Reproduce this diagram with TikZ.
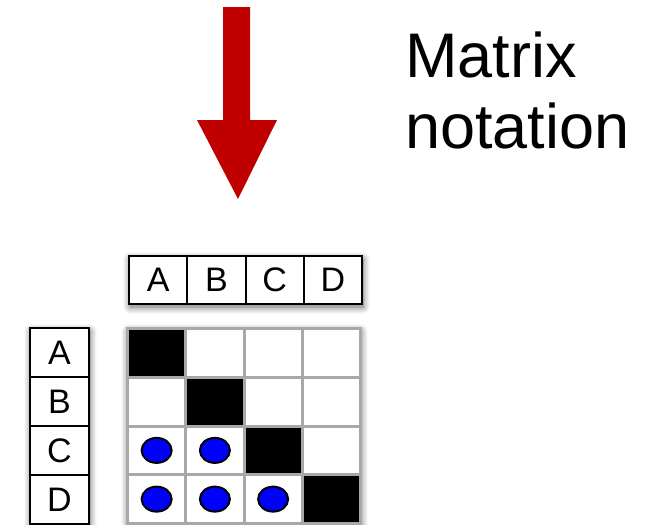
\documentclass[tikz,border=0pt]{standalone}
\usepackage{fontspec}
\setmainfont{Liberation Sans}
\usetikzlibrary{shadows.blur,shapes.geometric}
\definecolor{arrowred}{HTML}{C00000}
\definecolor{gridgray}{HTML}{A8A8A8}
\definecolor{dotblue}{HTML}{0000FF}
\begin{document}
\begin{tikzpicture}[x=1pt,y=-1pt,
  labelcell/.style={draw=black,line width=2pt,fill=white,inner sep=0pt,anchor=north west,
    font=\fontsize{34}{36}\selectfont},
  hcell/.style={labelcell,minimum width=58.25pt,minimum height=48pt},
  rcell/.style={labelcell,minimum width=59pt,minimum height=49pt},
  gcell/.style={draw=gridgray,line width=3pt,fill=white,inner sep=0pt,anchor=north west,
    minimum width=58.25pt,minimum height=48.75pt},
  diagcell/.style={gcell,fill=black},
  dot/.style={ellipse,draw=black,line width=2pt,fill=dotblue,inner sep=0pt,
    minimum width=30pt,minimum height=25pt},
  shadowbox/.style={fill=white,blur shadow={shadow xshift=2pt,shadow yshift=-4pt,
    shadow blur radius=7pt,shadow blur steps=10,shadow opacity=60}},
  titletext/.style={anchor=base west,inner sep=0pt,font=\fontsize{63}{71}\selectfont}]
\useasboundingbox (0,0) rectangle (646,525);

% arrow
\fill[arrowred] (223,7) -- (250,7) -- (250,120) -- (277,120) -- (238,199)
  -- (197,120) -- (223,120) -- cycle;

% title
\node[titletext] (title1) at (405,77) {Matrix};
\node[titletext] (title2) at (405,148) {notation};

% shadows
\path[shadowbox] (128,255) rectangle (361,303);
\path[shadowbox] (29,327) rectangle (88,523);
\path[shadowbox] (126,327) rectangle (359,522);

% header
\foreach \l [count=\i from 0] in {A,B,C,D}
  \node[hcell] (h\l) at ({128+58.25*\i},255) {\l};

% row labels
\foreach \l [count=\i from 0] in {A,B,C,D}
  \node[rcell] (r\l) at (29,{327+49*\i}) {\l};

% grid
\foreach \r in {0,...,3}
  \foreach \c in {0,...,3}
    \node[gcell] (g\r\c) at ({126+58.25*\c},{327+48.75*\r}) {};
\foreach \k in {0,...,3}
  \node[diagcell] (d\k) at ({126+58.25*\k},{327+48.75*\k}) {};

% dots
\node[dot] (p20) at (g20.center) {};
\node[dot] (p21) at (g21.center) {};
\node[dot] (p30) at (g30.center) {};
\node[dot] (p31) at (g31.center) {};
\node[dot] (p32) at (g32.center) {};
\end{tikzpicture}
\end{document}
